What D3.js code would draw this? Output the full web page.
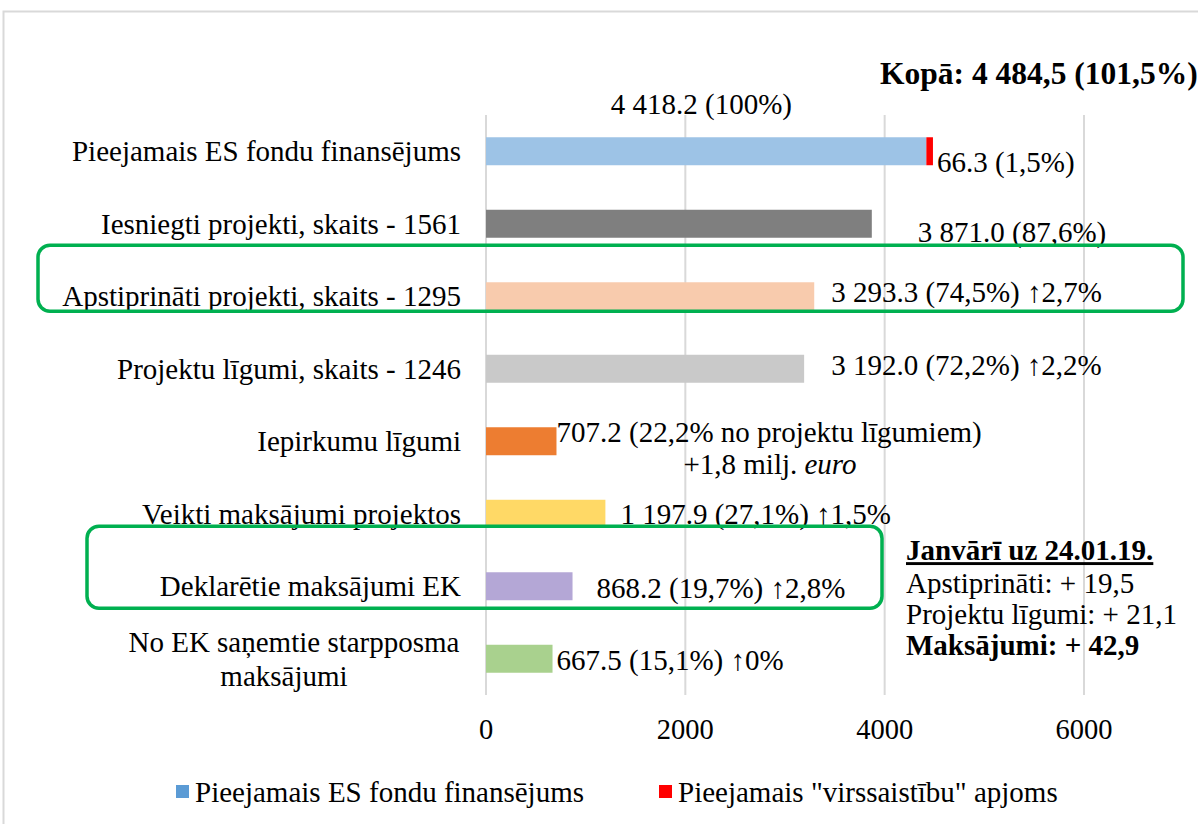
<!DOCTYPE html>
<html>
<head>
<meta charset="utf-8">
<script src="https://cdn.jsdelivr.net/npm/d3@7"></script>
<style>
  body { margin: 0; background: #fff; }
  svg { display: block; }
  text { font-family: "Liberation Serif", "Times New Roman", serif; fill: #000; }
</style>
</head>
<body>
<div id="chart"></div>
<script>
var svgWidth = 1198;
var svgHeight = 824;

// Data
var categories = [
    "Pieejamais ES fondu finansējums",
    "Iesniegti projekti, skaits - 1561",
    "Apstiprināti projekti, skaits - 1295",
    "Projektu līgumi, skaits - 1246",
    "Iepirkumu līgumi",
    "Veikti maksājumi projektos",
    "Deklarētie maksājumi EK",
    "No EK saņemtie starpposma maksājumi"
];
var values = [4418.2, 3871.0, 3293.3, 3192.0, 707.2, 1197.9, 868.2, 667.5];
var overValue = [66.3, 0, 0, 0, 0, 0, 0, 0];
var barColors = ["#9DC3E6", "#7F7F7F", "#F8CBAD", "#C9C9C9", "#ED7D31", "#FFD966", "#B4A7D6", "#A9D18E"];
var valueLabels = [
    "66.3 (1,5%)",
    "3 871.0 (87,6%)",
    "3 293.3 (74,5%) ↑2,7%",
    "3 192.0 (72,2%) ↑2,2%",
    "707.2 (22,2% no projektu līgumiem)",
    "1 197.9 (27,1%) ↑1,5%",
    "868.2 (19,7%) ↑2,8%",
    "667.5 (15,1%) ↑0%"
];
var xTicks = [0, 2000, 4000, 6000];
var legendItems = ["Pieejamais ES fondu finansējums", "Pieejamais \"virssaistību\" apjoms"];
var legendColors = ["#5B9BD5", "#FF0000"];
var noteLines = ["Janvārī uz 24.01.19.", "Apstiprināti: + 19,5", "Projektu līgumi: + 21,1", "Maksājumi: + 42,9"];
var highlighted = [2, 6];

var margin = { top: 115, left: 486, plotRight: 1084, bottom: 695 };
var fontSize = "29px";

var svg = d3.select("#chart")
    .append("svg")
    .attr("width", svgWidth)
    .attr("height", svgHeight);

// chart frame
svg.append("rect")
    .attr("x", 3.5).attr("y", 11.5)
    .attr("width", 1300).attr("height", 900)
    .attr("fill", "none")
    .attr("stroke", "#d9d9d9")
    .attr("stroke-width", 2);

var x = d3.scaleLinear()
    .domain([0, 6000])
    .range([margin.left, margin.plotRight]);

var y = d3.scaleBand()
    .domain(categories)
    .range([margin.top, margin.bottom])
    .paddingInner(0.614)
    .paddingOuter(0.307);

// gridlines
svg.append("g")
    .selectAll("line")
    .data(xTicks)
    .enter()
    .append("line")
    .attr("x1", d => x(d)).attr("x2", d => x(d))
    .attr("y1", margin.top).attr("y2", margin.bottom)
    .attr("stroke", "#d9d9d9")
    .attr("stroke-width", 2);

// x tick labels
svg.append("g")
    .selectAll("text")
    .data(xTicks)
    .enter()
    .append("text")
    .attr("x", d => x(d))
    .attr("y", 729)
    .attr("dy", "0.35em")
    .attr("text-anchor", "middle")
    .style("font-size", "28.5px")
    .text(d => d);

// bars
svg.append("g")
    .selectAll("rect")
    .data(values)
    .enter()
    .append("rect")
    .attr("x", x(0))
    .attr("y", (d, i) => y(categories[i]))
    .attr("width", d => x(d) - x(0))
    .attr("height", y.bandwidth())
    .attr("fill", (d, i) => barColors[i]);

// red "virssaistības" part
svg.append("g")
    .selectAll("rect")
    .data(overValue)
    .enter()
    .filter(d => d > 0)
    .append("rect")
    .attr("x", (d, i) => x(values[i]))
    .attr("y", y(categories[0]))
    .attr("width", d => x(d) - x(0))
    .attr("height", y.bandwidth())
    .attr("fill", "#FF0000");

// category labels
var mid = y.bandwidth() / 2;
categories.forEach(function(c, i) {
    var cy = y(c) + mid;
    if (i === 7) {
        var t = svg.append("text")
            .attr("text-anchor", "middle")
            .style("font-size", fontSize);
        t.append("tspan").attr("x", 294).attr("y", cy - 17).attr("dy", "0.35em").text("No EK saņemtie starpposma");
        t.append("tspan").attr("x", 284).attr("y", cy + 17).attr("dy", "0.35em").text("maksājumi");
    } else {
        svg.append("text")
            .attr("x", 461)
            .attr("y", cy)
            .attr("dy", "0.35em")
            .attr("text-anchor", "end")
            .style("font-size", fontSize)
            .text(c);
    }
});

// value labels (moved by hand in the original, so offsets from bar ends)
var labelDx = [4, 46, 17, 27, 0, 15, 24, 4];
var labelDy = [11, 8, -4, -4, -9, 0, 2, 1];
valueLabels.forEach(function(l, i) {
    svg.append("text")
        .attr("x", x(values[i] + overValue[i]) + labelDx[i])
        .attr("y", y(categories[i]) + mid + labelDy[i])
        .attr("dy", "0.35em")
        .style("font-size", fontSize)
        .text(l);
});

// second line of the procurement label
var euroLine = svg.append("text")
    .attr("x", 770)
    .attr("y", y(categories[4]) + mid + 23)
    .attr("dy", "0.35em")
    .attr("text-anchor", "middle")
    .style("font-size", fontSize);
euroLine.append("tspan").text("+1,8 milj. ");
euroLine.append("tspan").style("font-style", "italic").text("euro");

// total label above first bar
svg.append("text")
    .attr("x", x(values[0]) - 225)
    .attr("y", 104)
    .attr("dy", "0.35em")
    .attr("text-anchor", "middle")
    .style("font-size", fontSize)
    .text("4 418.2 (100%)");

svg.append("text")
    .attr("x", 880)
    .attr("y", 73)
    .attr("dy", "0.35em")
    .style("font-size", "31.5px")
    .style("font-weight", "bold")
    .text("Kopā: 4 484,5 (101,5%)");

// green highlight boxes
var boxes = [
    { row: highlighted[0], x0: 38, x1: 1183, top: 51, bottom: 15 },
    { row: highlighted[1], x0: 87, x1: 882, top: 60, bottom: 22 }
];
boxes.forEach(function(b) {
    var cy = y(categories[b.row]) + mid;
    svg.append("rect")
        .attr("x", b.x0).attr("y", cy - b.top)
        .attr("width", b.x1 - b.x0).attr("height", b.top + b.bottom)
        .attr("rx", 12).attr("ry", 12)
        .attr("fill", "none")
        .attr("stroke", "#00B050")
        .attr("stroke-width", 3.5);
});

// January note
var noteY = [550, 583, 614, 645];
noteLines.forEach(function(l, i) {
    svg.append("text")
        .attr("x", 906)
        .attr("y", noteY[i])
        .attr("dy", "0.35em")
        .style("font-size", fontSize)
        .style("font-weight", (i === 0 || i === 3) ? "bold" : "normal")
        .style("text-decoration", i === 0 ? "underline" : "none")
        .text(l);
});

// legend
var legendX = [176, 659];
legendItems.forEach(function(l, i) {
    svg.append("rect")
        .attr("x", legendX[i]).attr("y", 785)
        .attr("width", 13).attr("height", 13)
        .attr("fill", legendColors[i]);
    svg.append("text")
        .attr("x", legendX[i] + 19)
        .attr("y", 792)
        .attr("dy", "0.35em")
        .style("font-size", fontSize)
        .text(l);
});
</script>
</body>
</html>
